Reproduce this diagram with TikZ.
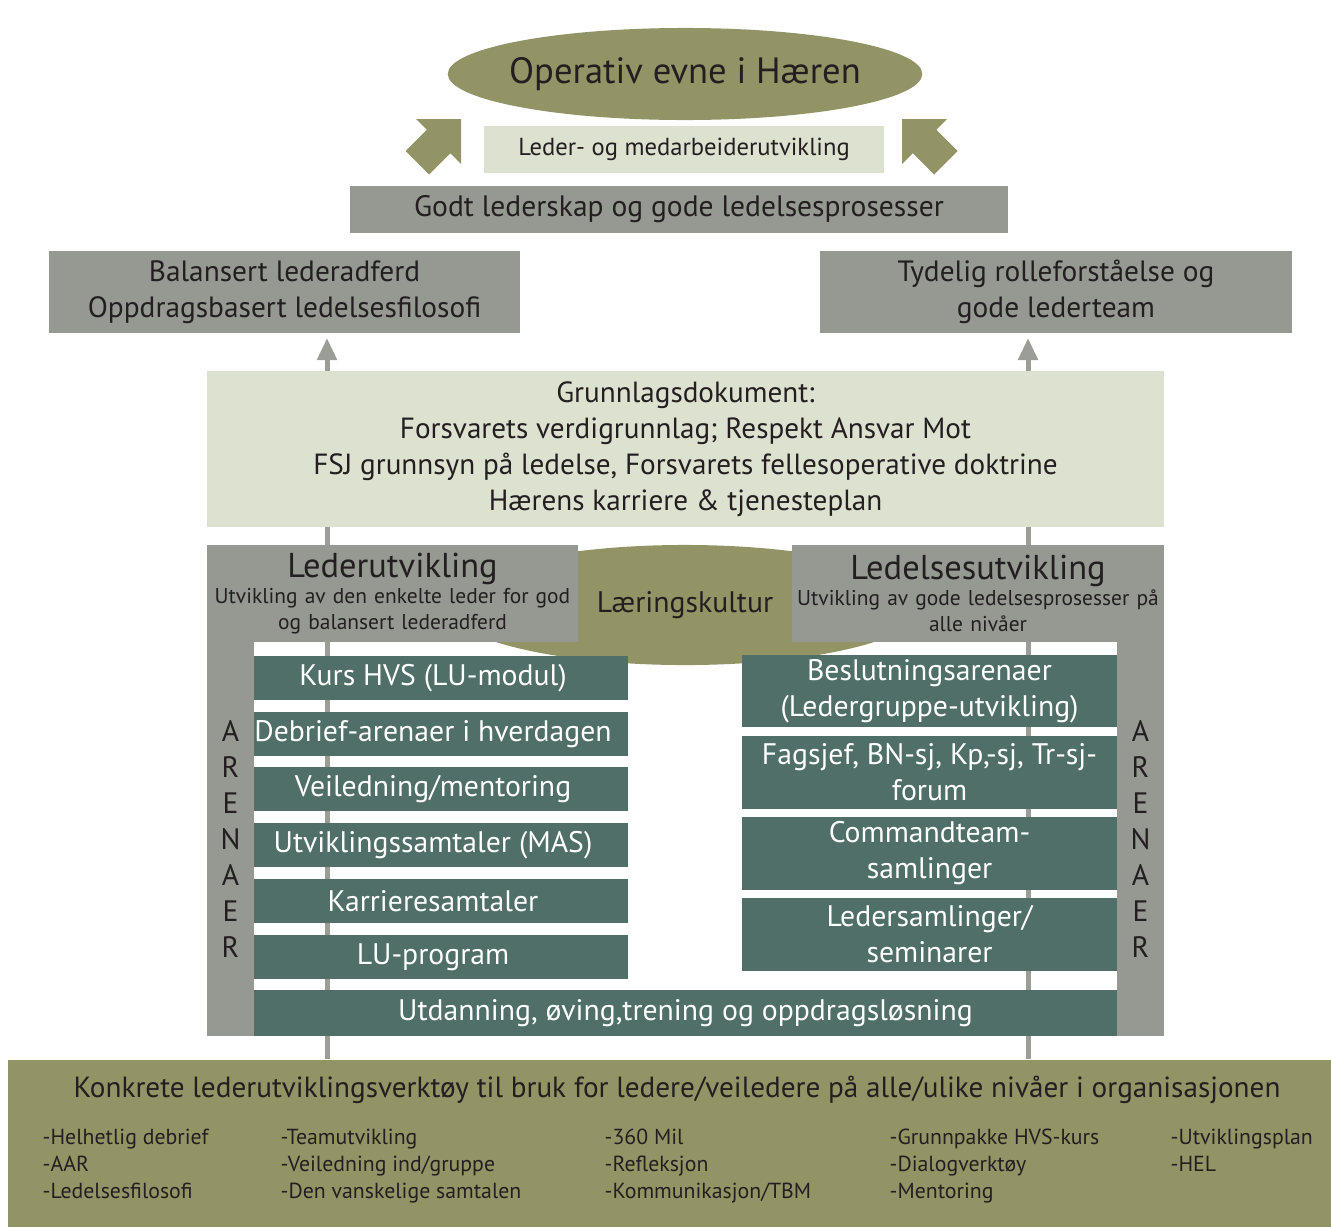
\documentclass[tikz,border=0pt]{standalone}
\usepackage{fontspec}
\setmainfont{PT Sans}
\usetikzlibrary{shapes.geometric,arrows.meta,backgrounds}

\definecolor{armyolive}{RGB}{147,148,102}
\definecolor{armygray}{RGB}{149,153,146}
\definecolor{armypale}{RGB}{221,225,208}
\definecolor{armyteal}{RGB}{79,111,104}
\definecolor{stemgray}{RGB}{155,157,151}
\definecolor{ink}{RGB}{35,31,32}

\newcommand\fsize[2]{\fontsize{#1}{#2}\selectfont}

\begin{document}
\begin{tikzpicture}[x=0.01cm, y=-0.01cm, inner sep=0pt, text=ink,
    plate/.style={fill=armygray, align=center},
    pale/.style={fill=armypale, align=center},
    oval/.style={ellipse, fill=armyolive},
    tealbox/.style={fill=armyteal, text=white, align=center, font=\fsize{8.45}{10.24}},
    headbox/.style={fill=armygray, align=center, text width=3.71cm, minimum height=0.97cm, font=\fsize{6.1}{7.4}},
    strip/.style={fill=armygray, align=center, minimum width=0.47cm, minimum height=3.94cm, font=\fsize{8.4}{10.24}},
    stem/.style={draw=stemgray, line width=0.05cm, -{Triangle[length=0.22cm,width=0.19cm]}},
    tool/.style={anchor=north west, align=left, font=\fsize{6.2}{7.68}}]
    \useasboundingbox (0,0) rectangle (1331,1227);

    % goal and the two big arrows
    \node[oval, inner xsep=-0.08cm, minimum width=4.70cm, minimum height=0.92cm, font=\fsize{10.4}{12}] (goal) at (685,74) {Operativ evne i Hæren};
    \node[pale, minimum width=4.00cm, minimum height=0.47cm, font=\fsize{7}{8}] (growth) at (684,149.5) {Leder- og medarbeiderutvikling};
    \foreach \m in {1,-1}
        \fill[armyolive, shift={(681.5,0)}, xscale=\m] (-220.5,119) -- (-220.5,164) -- (-231.25,153.25) -- (-252.5,174.5)
            -- (-276,151) -- (-254.75,129.75) -- (-265.5,119) -- cycle;

    % results
    \node[plate, minimum width=6.58cm, minimum height=0.47cm, font=\fsize{8.4}{10}] (practice) at (679,209.5) {Godt lederskap og gode ledelsesprosesser};
    \node[plate, minimum width=4.71cm, minimum height=0.81cm, font=\fsize{8.35}{10.24}] (lbox) at (284.5,292) {Balansert lederadferd\\Oppdragsbasert ledelsesfilosofi};
    \node[plate, minimum width=4.72cm, minimum height=0.81cm, font=\fsize{8.35}{10.24}] (rbox) at (1056,292) {Tydelig rolleforståelse og\\gode lederteam};

    % basis
    \node[pale, minimum width=9.57cm, minimum height=1.56cm, font=\fsize{8.3}{10.24}] (basis) at (685.5,449) {Grunnlagsdokument:\\Forsvarets verdigrunnlag; Respekt Ansvar Mot\\FSJ grunnsyn på ledelse, Forsvarets fellesoperative doktrine\\Hærens karriere \& tjenesteplan};

    % culture and the two panels
    \node[oval, minimum width=4.80cm, minimum height=1.20cm, font=\fsize{8.45}{10}] (culture) at (685,605) {Læringskultur};
    \node[headbox] (lhead) at (392.5,593.5) {{\fsize{9.8}{11}Lederutvikling\par}Utvikling av den enkelte leder for god\\og balansert lederadferd};
    \node[headbox, text width=3.72cm] (rhead) at (978,593.5) {{\fsize{9.8}{11}Ledelsesutvikling\par}Utvikling av gode ledelsesprosesser på\\alle nivåer};
    \node[strip] (lstrip) at (230.5,839) {A\\R\\E\\N\\A\\E\\R};
    \node[strip] (rstrip) at (1140.5,839) {A\\R\\E\\N\\A\\E\\R};

    % arenas
    \foreach \y/\txt [count=\i] in {678/{Kurs HVS (LU-modul)}, 734/{Debrief-arenaer i hverdagen}, 789/{Veiledning/mentoring},
        845/{Utviklingssamtaler (MAS)}, 901/{Karrieresamtaler}, 957/{LU-program}}
        \node[tealbox, minimum width=3.74cm, minimum height=0.44cm] (lu\i) at (441,\y) {\txt\hspace*{0.16cm}};
    \node[tealbox, minimum width=3.75cm, minimum height=0.72cm] (lg1) at (929.5,691) {Beslutningsarenaer\\(Ledergruppe-utvikling)};
    \node[tealbox, minimum width=3.75cm, minimum height=0.72cm] (lg2) at (929.5,772.5) {Fagsjef, BN-sj, Kp,-sj, Tr-sj-\\forum};
    \node[tealbox, minimum width=3.75cm, minimum height=0.72cm] (lg3) at (929.5,853.5) {Commandteam-\\samlinger};
    \node[tealbox, minimum width=3.75cm, minimum height=0.72cm] (lg4) at (929.5,934.5) {Ledersamlinger/\\seminarer};
    \node[tealbox, minimum width=8.63cm, minimum height=0.46cm] (drill) at (685.5,1013) {Utdanning, øving,trening og oppdragsløsning};

    % tools
    \node[fill=armyolive, minimum width=13.23cm, minimum height=1.67cm] (tools) at (669.5,1143.5) {};
    \node[font=\fsize{8.3}{9}] (toolstitle) at (677,1090) {Konkrete lederutviklingsverktøy til bruk for ledere/veiledere på alle/ulike nivåer i organisasjonen};
    \node[tool] (tool1) at (42,1125) {\strut-Helhetlig debrief\\-AAR\\-Ledelsesfilosofi};
    \node[tool] (tool2) at (280,1125) {\strut-Teamutvikling\\-Veiledning ind/gruppe\\-Den vanskelige samtalen};
    \node[tool] (tool3) at (604,1125) {\strut-360 Mil\\-Refleksjon\\-Kommunikasjon/TBM};
    \node[tool] (tool4) at (889,1125) {\strut-Grunnpakke HVS-kurs\\-Dialogverktøy\\-Mentoring};
    \node[tool] (tool5) at (1170,1125) {\strut-Utviklingsplan\\-HEL};

    % the two stems behind everything
    \coordinate (ltip) at (327,338);
    \coordinate (rtip) at (1028,338);
    \begin{scope}[on background layer]
        \draw[stem] (tools.north -| ltip) -- (ltip);
        \draw[stem] (tools.north -| rtip) -- (rtip);
    \end{scope}
\end{tikzpicture}
\end{document}
